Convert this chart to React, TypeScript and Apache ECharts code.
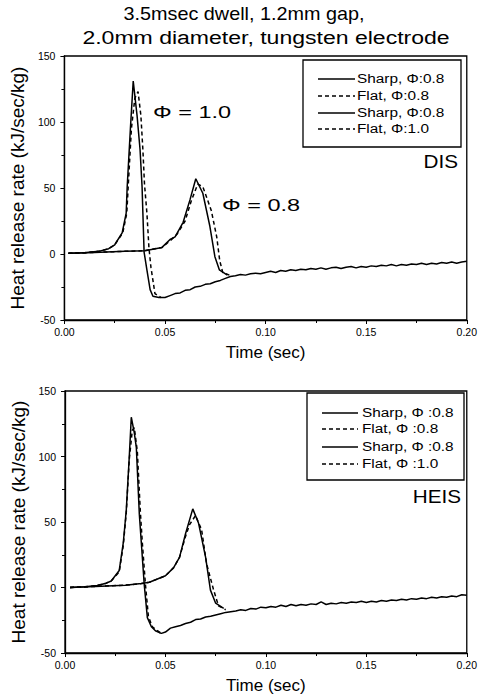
import React, { useEffect, useRef } from "react";
import * as echarts from "echarts";

const titleLines = ["3.5msec dwell, 1.2mm gap,", "2.0mm diameter, tungsten electrode"];
const disLegend = ["Sharp, Φ:0.8", "Flat, Φ:0.8", "Sharp, Φ:0.8", "Flat, Φ:1.0"];
const heisLegend = ["Sharp, Φ :0.8", "Flat, Φ :0.8", "Sharp, Φ :0.8", "Flat, Φ :1.0"];
const legendDashed = [false, true, false, true];
const panelLabels = ["DIS", "HEIS"];
const phiLabels = ["Φ = 1.0", "Φ = 0.8"];
const xName = "Time (sec)";
const yName = "Heat release rate (kJ/sec/kg)";

// ---- DIS panel ----
const dis10SharpT = [0.002, 0.010, 0.017, 0.022, 0.025, 0.0287, 0.0307, 0.0312, 0.0328, 0.0342, 0.0361, 0.0376, 0.0386, 0.039, 0.0396, 0.041, 0.0426, 0.044, 0.047];
const dis10SharpV = [0.5, 1, 2, 4, 7, 16, 31, 51, 95, 131, 105, 79, 51, 31, 1.5, -12, -27, -32, -33];
const dis10FlatT = [0.002, 0.010, 0.017, 0.022, 0.025, 0.029, 0.031, 0.0317, 0.0333, 0.035, 0.0366, 0.038, 0.039, 0.0398, 0.041, 0.042, 0.043, 0.044, 0.045, 0.048];
const dis10FlatV = [0.5, 1, 2, 4, 7, 16, 31, 51, 95, 118, 123, 105, 79, 53, 31, 5, -10, -20, -30, -33];
const dis08SharpT = [0.002, 0.015, 0.030, 0.040, 0.0485, 0.0525, 0.055, 0.059, 0.0624, 0.0653, 0.0688, 0.0723, 0.0748, 0.077, 0.081];
const dis08SharpV = [0.5, 1.2, 2, 2.5, 5, 11, 13, 24, 41, 57, 46, 21, -2, -12, -16];
const dis08FlatT = [0.002, 0.015, 0.030, 0.040, 0.0485, 0.0525, 0.056, 0.060, 0.063, 0.0663, 0.0688, 0.073, 0.0757, 0.0772, 0.0787, 0.082];
const dis08FlatV = [0.5, 1.2, 2, 2.5, 5, 10, 15, 25, 40, 53, 51, 33, 13, -5, -14, -16];
const disTailT = [0.050, 0.0525, 0.055, 0.0575, 0.060, 0.0625, 0.065, 0.0675, 0.070, 0.0725, 0.075, 0.0775, 0.080, 0.0825, 0.085, 0.0875, 0.090, 0.0925, 0.095, 0.0975, 0.100, 0.1025, 0.105, 0.1075, 0.110, 0.1125, 0.115, 0.1175, 0.120, 0.1225, 0.125, 0.1275, 0.130, 0.1325, 0.135, 0.1375, 0.140, 0.1425, 0.145, 0.1475, 0.150, 0.1525, 0.155, 0.1575, 0.160, 0.1625, 0.165, 0.1675, 0.170, 0.1725, 0.175, 0.1775, 0.180, 0.1825, 0.185, 0.1875, 0.190, 0.1925, 0.195, 0.1975, 0.200];
const disTailV = [-33, -31.5, -30, -29.5, -27.5, -27, -25, -24.5, -23, -22.5, -21, -20, -18.5, -17, -16.5, -15.5, -16, -15, -14.5, -15, -14, -13, -14, -12.5, -13, -12, -12.5, -11.5, -12, -11, -11.5, -10.5, -11.5, -10.5, -10, -11, -10, -9.5, -10.5, -9.5, -10, -9, -9.5, -8.5, -9, -8, -9, -8, -8.5, -7.5, -8, -7, -8, -7, -7.5, -6.5, -7, -6, -7, -6, -5.5];

// ---- HEIS panel ----
const heis10SharpT = [0.0025, 0.010, 0.016, 0.020, 0.023, 0.027, 0.029, 0.0305, 0.032, 0.033, 0.0345, 0.0355, 0.037, 0.038, 0.0394, 0.041, 0.043, 0.045, 0.047];
const heis10SharpV = [0, 0.5, 1.5, 3, 5, 13, 34, 59, 100, 130, 118, 107, 56, 34, 3, -23, -30, -33, -34.5];
const heis10FlatT = [0.0025, 0.010, 0.016, 0.020, 0.023, 0.027, 0.029, 0.0305, 0.032, 0.0335, 0.0345, 0.036, 0.0375, 0.0385, 0.040, 0.0415, 0.0435, 0.046, 0.048];
const heis10FlatV = [0, 0.5, 1.5, 3, 5, 12, 32, 57, 98, 120, 122, 104, 58, 34, 3, -22, -30, -33, -35];
const heis08SharpT = [0.0025, 0.015, 0.030, 0.038, 0.042, 0.050, 0.054, 0.057, 0.060, 0.0636, 0.0665, 0.070, 0.0724, 0.075, 0.079];
const heis08SharpV = [0, 0.8, 1.8, 3, 4, 9, 15, 23, 41, 60, 49, 23, -2, -12, -16];
const heis08FlatT = [0.0025, 0.015, 0.030, 0.038, 0.042, 0.050, 0.054, 0.057, 0.060, 0.062, 0.065, 0.068, 0.0705, 0.074, 0.0764, 0.080];
const heis08FlatV = [0, 0.8, 1.8, 3, 4, 9, 15, 23, 39, 48, 55, 44, 18, -2, -14, -17];
const heisTailT = [0.048, 0.050, 0.0525, 0.055, 0.0575, 0.060, 0.0625, 0.065, 0.0675, 0.070, 0.0725, 0.075, 0.0775, 0.080, 0.0825, 0.085, 0.0875, 0.090, 0.0925, 0.095, 0.0975, 0.100, 0.1025, 0.105, 0.1075, 0.110, 0.1125, 0.115, 0.1175, 0.120, 0.1225, 0.125, 0.1275, 0.130, 0.1325, 0.135, 0.1375, 0.140, 0.1425, 0.145, 0.1475, 0.150, 0.1525, 0.155, 0.1575, 0.160, 0.1625, 0.165, 0.1675, 0.170, 0.1725, 0.175, 0.1775, 0.180, 0.1825, 0.185, 0.1875, 0.190, 0.1925, 0.195, 0.1975, 0.200];
const heisTailV = [-35, -34, -31, -30, -29, -27.5, -26.5, -24.5, -24, -22.5, -22, -21, -20, -19, -18.5, -18, -17, -17.5, -16, -16.5, -15, -15.5, -14.5, -15, -13.5, -14.5, -13, -14, -13, -13.5, -12.5, -13, -11, -13, -12, -12.5, -11.5, -12, -11, -11.5, -10.5, -11.5, -10.5, -11, -10, -10.5, -9.5, -10, -9, -9.5, -8.5, -9, -8, -8.5, -7.5, -8, -7, -7.5, -6.5, -7, -5.5, -6];

const xMin = 0, xMax = 0.2, xInterval = 0.05;
const yMin = -50, yMax = 150, yInterval = 50;

const zip = (t: number[], v: number[]) => t.map((x, i) => [x, v[i]]);

const FONT = "Liberation Sans";

function txt(text: string, x: number, y: number, size: number, align: string, scaleX: number) {
  return {
    type: "text",
    x,
    y,
    scaleX,
    z: 10,
    style: { text, fill: "#000", font: `${size}px ${FONT}`, align, verticalAlign: "middle" },
  };
}

function legendBox(x: number, y: number, w: number, h: number, labels: string[], rowYs: number[], lx0: number, lx1: number, tx: number) {
  const children: any[] = [
    { type: "rect", z: 9, shape: { x, y, width: w, height: h }, style: { fill: "#fff", stroke: "#000", lineWidth: 1.3 } },
  ];
  labels.forEach((lab, i) => {
    children.push({
      type: "line",
      z: 10,
      shape: { x1: lx0, y1: rowYs[i], x2: lx1, y2: rowYs[i] },
      style: { stroke: "#000", lineWidth: 1.3, lineDash: legendDashed[i] ? [4, 3] : null },
    });
    children.push(txt(lab, tx, rowYs[i], 12, "left", 1.28));
  });
  return children;
}

export default function App() {
  const ref = useRef<HTMLDivElement>(null);
  useEffect(() => {
    if (!ref.current) return;
    const chart = echarts.init(ref.current, undefined, { renderer: "svg" });
    const axisCommonX = (gi: number) => ({
      type: "value",
      gridIndex: gi,
      min: xMin,
      max: xMax,
      interval: xInterval,
      name: xName,
      nameLocation: "middle",
      nameGap: 24,
      nameTextStyle: { fontFamily: FONT, fontSize: 17, color: "#000" },
      axisLine: { show: true, onZero: false, lineStyle: { color: "#000", width: 1.3 } },
      axisTick: { show: true, inside: false, length: 4, lineStyle: { color: "#000" } },
      minorTick: { show: true, splitNumber: 2, length: 3, lineStyle: { color: "#000" } },
      splitLine: { show: false },
      axisLabel: { fontFamily: FONT, fontSize: 10.5, color: "#000", margin: 6, formatter: (v: number) => v.toFixed(2) },
    });
    const axisCommonY = (gi: number) => ({
      type: "value",
      gridIndex: gi,
      min: yMin,
      max: yMax,
      interval: yInterval,
      name: yName,
      nameLocation: "middle",
      nameGap: 36,
      nameTextStyle: { fontFamily: FONT, fontSize: 19, color: "#000" },
      axisLine: { show: true, onZero: false, lineStyle: { color: "#000", width: 1.3 } },
      axisTick: { show: true, inside: false, length: 4, lineStyle: { color: "#000" } },
      minorTick: { show: true, splitNumber: 2, length: 3, lineStyle: { color: "#000" } },
      splitLine: { show: false },
      axisLabel: { fontFamily: FONT, fontSize: 10.5, color: "#000", margin: 9 },
    });
    const line = (name: string, gi: number, data: number[][], dashed: boolean) => ({
      name,
      type: "line",
      xAxisIndex: gi,
      yAxisIndex: gi,
      data,
      showSymbol: false,
      symbol: "none",
      smooth: false,
      lineStyle: { color: "#000", width: 1.5, type: dashed ? [4, 3] : "solid" },
      z: dashed ? 3 : 2,
    });
    const option: any = {
      animation: false,
      backgroundColor: "#fff",
      grid: [
        { left: 64, right: 12, top: 56, height: 264, show: true, borderColor: "#000", borderWidth: 1.3, backgroundColor: "transparent" },
        { left: 65, right: 9, top: 391, height: 262, show: true, borderColor: "#000", borderWidth: 1.3, backgroundColor: "transparent" },
      ],
      xAxis: [axisCommonX(0), axisCommonX(1)],
      yAxis: [axisCommonY(0), axisCommonY(1)],
      series: [
        line("DIS Sharp Φ=1.0", 0, zip(dis10SharpT, dis10SharpV).concat(zip(disTailT, disTailV)), false),
        line("DIS Flat Φ=1.0", 0, zip(dis10FlatT, dis10FlatV), true),
        line("DIS Sharp Φ=0.8", 0, zip(dis08SharpT, dis08SharpV), false),
        line("DIS Flat Φ=0.8", 0, zip(dis08FlatT, dis08FlatV), true),
        line("HEIS Sharp Φ=1.0", 1, zip(heis10SharpT, heis10SharpV).concat(zip(heisTailT, heisTailV)), false),
        line("HEIS Flat Φ=1.0", 1, zip(heis10FlatT, heis10FlatV), true),
        line("HEIS Sharp Φ=0.8", 1, zip(heis08SharpT, heis08SharpV), false),
        line("HEIS Flat Φ=0.8", 1, zip(heis08FlatT, heis08FlatV), true),
      ],
      graphic: [
        txt(titleLines[0], 244, 14, 18, "center", 1.1),
        txt(titleLines[1], 266, 37, 18, "center", 1.28),
        ...legendBox(303, 60, 158, 87, disLegend, [79, 96, 113, 129], 318, 355, 357),
        ...legendBox(307, 393, 157, 87, heisLegend, [413, 429, 447, 464], 322, 358, 362),
        txt(panelLabels[0], 458, 162, 18, "right", 1.15),
        txt(panelLabels[1], 461, 497, 18, "right", 1.15),
        txt(phiLabels[0], 153, 112, 17, "left", 1.38),
        txt(phiLabels[1], 222, 205, 17, "left", 1.38),
      ],
    };
    chart.setOption(option);
    return () => chart.dispose();
  }, []);
  return <div ref={ref} style={{ position: "absolute", left: 0, top: 0, width: 480, height: 696 }} />;
}
